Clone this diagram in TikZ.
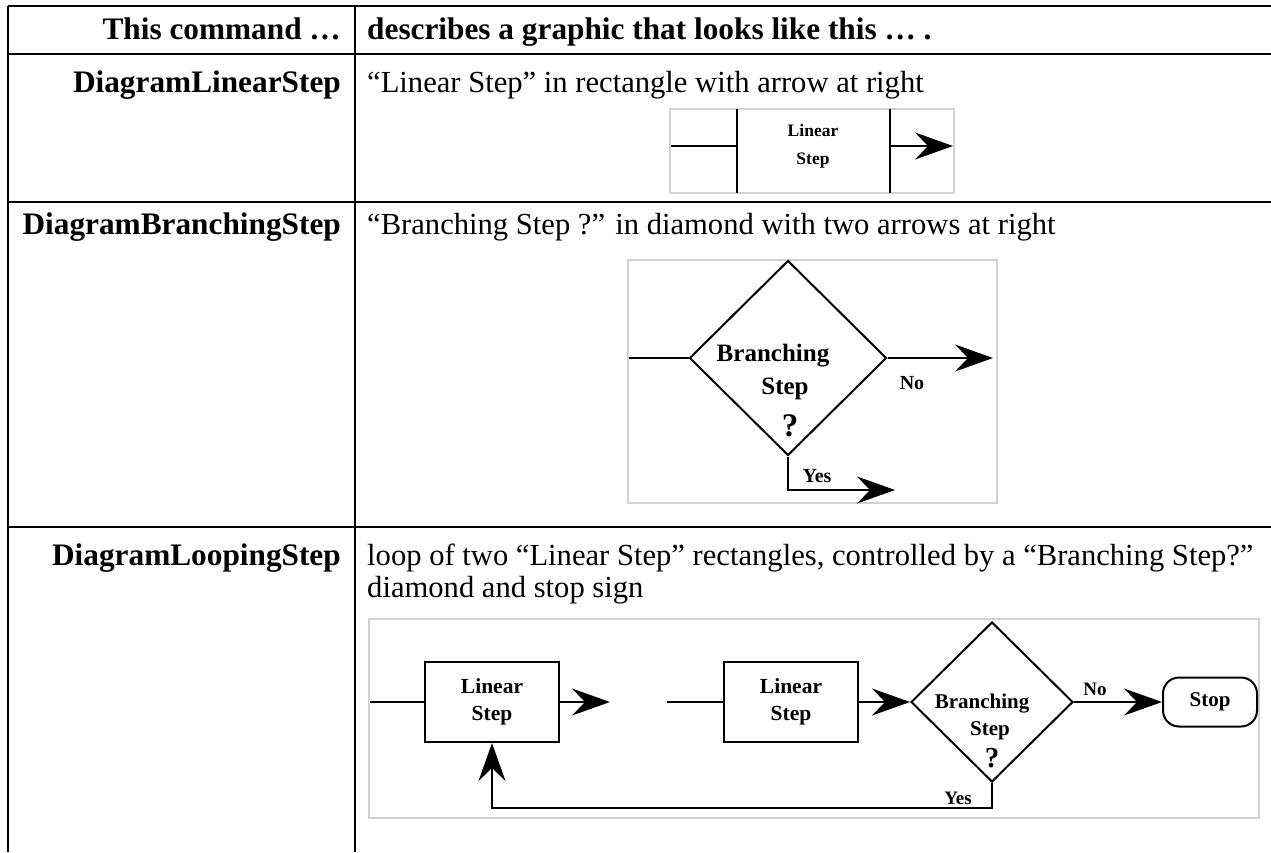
\documentclass[tikz,border=0pt]{standalone}
\usepackage{fontspec}
\setmainfont{Liberation Serif}
\usetikzlibrary{arrows.meta,shapes.geometric}

\begin{document}
\begin{tikzpicture}[x=1pt, y=-1pt,
    rule/.style = {line width=2.6pt},
    cmd/.style = {anchor=base east, inner sep=0pt, font=\fontsize{31.3}{35}\selectfont\bfseries},
    desc/.style = {anchor=base west, inner sep=0pt, font=\fontsize{30.6}{35}\selectfont},
    pane/.style = {draw=black!18, line width=1.8pt},
    wire/.style = {line width=2pt},
    flow/.style = {wire, -{Stealth[length=38pt, width=27pt, inset=13pt]}},
    stepbox/.style = {draw, line width=2pt, inner sep=0pt, align=center, minimum width=134pt, minimum height=80pt, font=\fontsize{21.5}{27}\selectfont\bfseries},
    decide/.style = {draw, shape=diamond, line width=2pt, inner sep=0pt},
    stopbox/.style = {draw, line width=2pt, rounded corners=16pt, inner sep=0pt, minimum width=94pt, minimum height=49pt, font=\fontsize{21}{24}\selectfont\bfseries},
    tag/.style = {inner sep=0pt, anchor=base}]
    \useasboundingbox (0,0) rectangle (1271,852);

    \draw[rule] (8,6) -- (1271,6);
    \draw[rule] (8,54) -- (1271,54);
    \draw[rule] (8,202) -- (1271,202);
    \draw[rule] (8,527) -- (1271,527);
    \draw[rule] (8,6) -- (8,852);
    \draw[rule] (355,6) -- (355,852);

    \node[cmd] (h1) at (341,39) {This command …};
    \node[desc, font=\fontsize{31.3}{35}\selectfont\bfseries] (h2) at (367,39) {describes a graphic that looks like this … .};

    \node[cmd] (c1) at (341,92) {DiagramLinearStep};
    \node[desc] (d1) at (367,92) {“Linear Step” in rectangle with arrow at right};

    \node[cmd] (c2) at (341,234) {DiagramBranchingStep};
    \node[desc] (d2) at (367,234) {“Branching Step ?” in diamond with two arrows at right};

    \node[cmd] (c3) at (341,565) {DiagramLoopingStep};
    \node[desc] (d3a) at (367,565) {loop of two “Linear Step” rectangles, controlled by a “Branching Step?”};
    \node[desc] (d3b) at (367,597) {diamond and stop sign};


    \draw[pane] (670,109) rectangle (954,193);
    \coordinate (in1) at (671,146);
    \coordinate (ls1) at (737,146);
    \coordinate (rs1) at (890,146);
    \coordinate (out1) at (953,146);
    \draw[wire] (737,109) -- (737,193);
    \draw[wire] (890,109) -- (890,193);
    \node[inner sep=0pt, align=center, font=\fontsize{17.5}{28}\selectfont\bfseries] (lin1) at (813,146) {Linear\\Step};

    \draw[wire] (in1) -- (ls1);
    \draw[flow] (rs1) -- (out1);


    \draw[pane] (628,260) rectangle (997,503);
    \node[decide, minimum width=197pt, minimum height=195pt] (br2) at (788,358) {};
    \coordinate (in2) at (629,358);
    \coordinate (no2) at (993,358);
    \coordinate (yc2) at (788,490);
    \coordinate (ye2) at (895,490);
    \node[tag, font=\fontsize{25}{25}\selectfont\bfseries] (bt2) at (773,361) {Branching};
    \node[tag, font=\fontsize{25}{25}\selectfont\bfseries] (st2) at (785,394) {Step};
    \node[tag, font=\fontsize{33}{33}\selectfont\bfseries] (qm2) at (790,436) {?};
    \node[tag, font=\fontsize{20}{20}\selectfont\bfseries] (nt2) at (912,389) {No};
    \node[tag, font=\fontsize{20}{20}\selectfont\bfseries] (yt2) at (817,482) {Yes};

    \draw[wire] (in2) -- (br2.west);
    \draw[flow] (br2.east) -- (no2);
    \draw[flow] (br2.south) -- (yc2) -- (ye2);


    \draw[pane] (369,619) rectangle (1259,818);
    \node[stepbox] (ls3) at (492,702) {Linear\\Step};
    \node[stepbox] (ls4) at (791,702) {Linear\\Step};
    \node[decide, minimum width=162pt, minimum height=160pt] (br3) at (992,702) {};
    \node[stopbox] (stop) at (1210,702) {Stop};
    \coordinate (in3) at (370,702);
    \coordinate (out3) at (610,702);
    \coordinate (in4) at (667,702);
    \coordinate (lp1) at (992,808);
    \coordinate (lp2) at (492,808);
    \node[tag, font=\fontsize{21}{21}\selectfont\bfseries] (bt3) at (982,708) {Branching};
    \node[tag, font=\fontsize{21}{21}\selectfont\bfseries] (st3) at (990,735) {Step};
    \node[tag, font=\fontsize{29}{29}\selectfont\bfseries] (qm3) at (992,767) {?};
    \node[tag, font=\fontsize{19}{19}\selectfont\bfseries] (nt3) at (1095,695) {No};
    \node[tag, font=\fontsize{19}{19}\selectfont\bfseries] (yt3) at (958,804) {Yes};

    \draw[wire] (in3) -- (ls3.west);
    \draw[flow] (ls3.east) -- (out3);
    \draw[wire] (in4) -- (ls4.west);
    \draw[flow] (ls4.east) -- (br3.west);
    \draw[flow] (br3.east) -- (stop.west);
    \draw[flow] (br3.south) -- (lp1) -- (lp2) -- (ls3.south);

\end{tikzpicture}
\end{document}
